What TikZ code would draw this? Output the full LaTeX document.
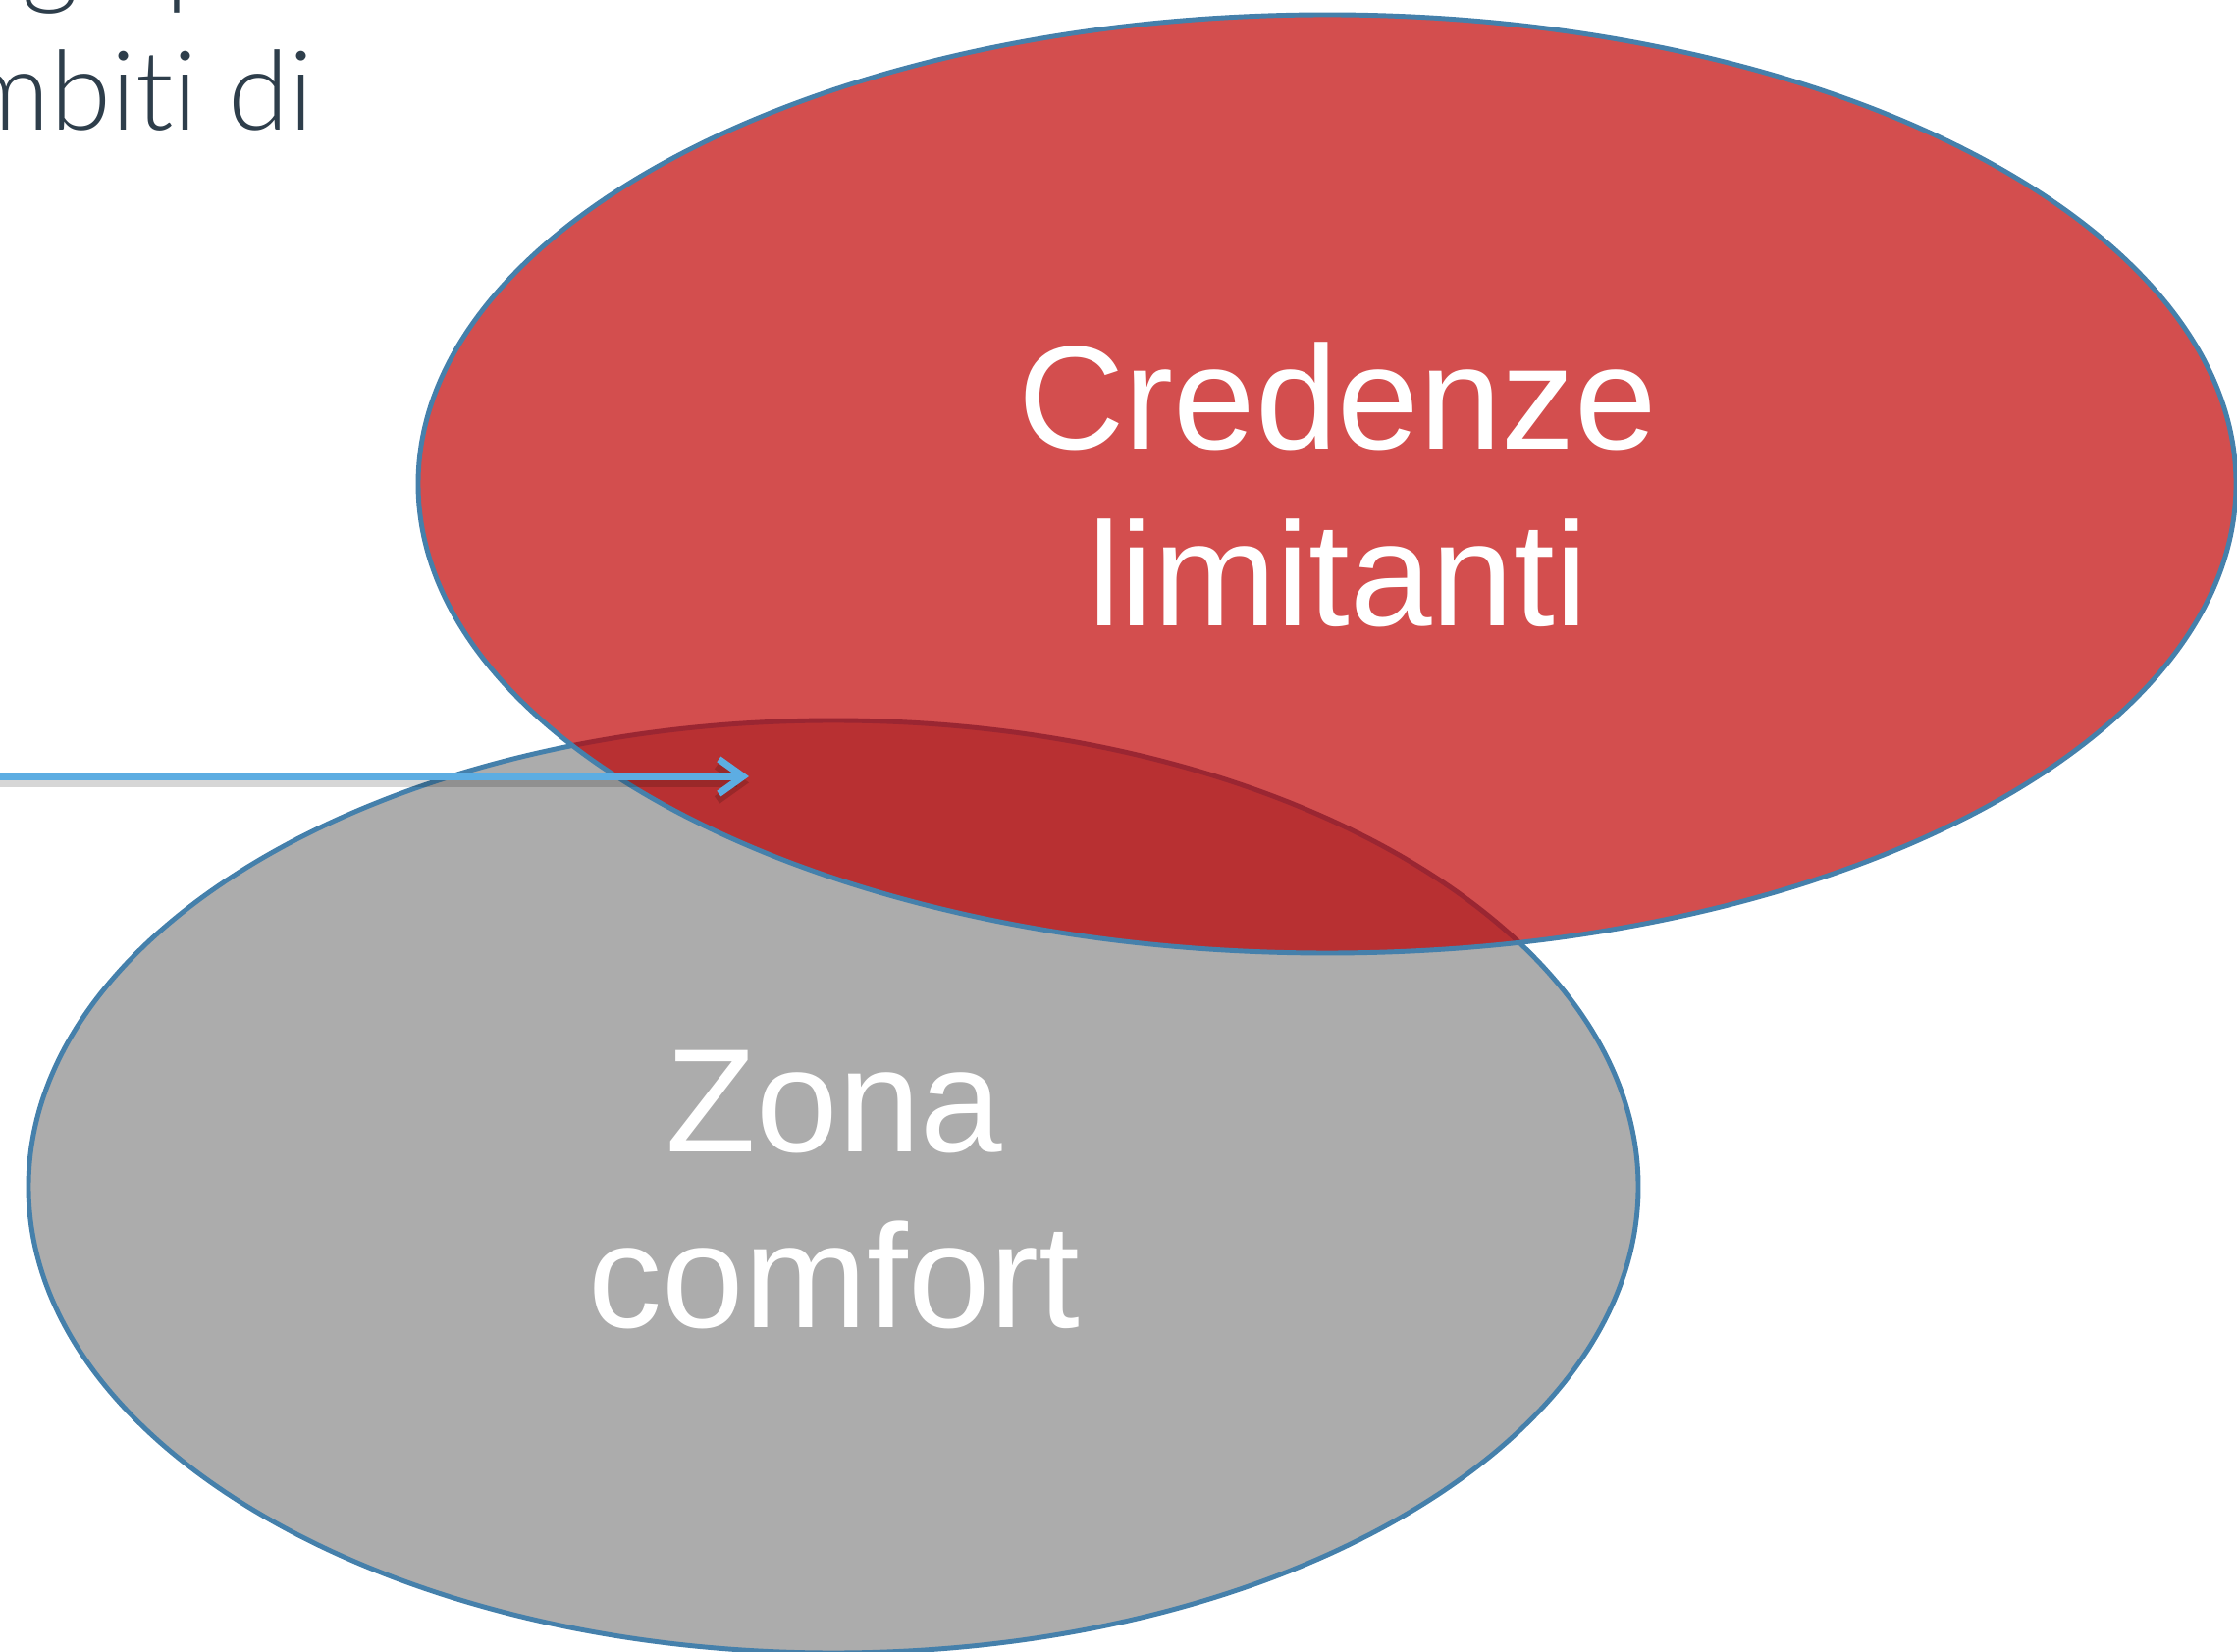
\documentclass[tikz,border=0pt]{standalone}
\usepackage{fontspec}
\setmainfont{Liberation Sans}
\newfontfamily\thinfont{Lato Light}[Ligatures={NoCommon,NoRare}]
\usetikzlibrary{arrows.meta,positioning,calc}

\definecolor{redfill}{HTML}{D34E4E}
\definecolor{overlapfill}{HTML}{B83032}
\definecolor{greyfill}{HTML}{ACACAC}
\definecolor{rimblue}{HTML}{4580AB}
\definecolor{rimred}{HTML}{9A2632}
\definecolor{arrowblue}{HTML}{5DADE2}
\definecolor{slatetext}{HTML}{2E3E4B}

\begin{document}
\begin{tikzpicture}[x=0.01cm,y=-0.01cm,
    rim/.style={draw=rimblue, line width=1.4pt},
    zonelabel/.style={text=white, font=\fontsize{42.7}{51}\selectfont, align=center, inner sep=0pt},
    toptext/.style={text=slatetext, font=\thinfont\fontsize{32}{38}\selectfont, inner sep=0pt},
    arrowline/.style={arrowblue, line width=2pt, -{Straight Barb[length=7pt,width=10pt]}},
    arrowshadow/.style={black, opacity=0.16, line width=2.6pt, -{Straight Barb[length=7pt,width=10pt]}}]
    \useasboundingbox (0,0) rectangle (2279,1683);

    \coordinate (redc) at (1352,493);
    \coordinate (greyc) at (849,1209);

    % the two sets
    \fill[greyfill] (greyc) ellipse [x radius=820, y radius=475];
    \draw[rim] (greyc) ellipse [x radius=820, y radius=475];
    \fill[redfill] (redc) ellipse [x radius=926, y radius=478];
    \begin{scope}
        \clip (redc) ellipse [x radius=926, y radius=478];
        \fill[overlapfill] (greyc) ellipse [x radius=820, y radius=475];
        \draw[rimred, line width=1.4pt] (greyc) ellipse [x radius=820, y radius=475];
    \end{scope}
    \draw[rim] (redc) ellipse [x radius=926, y radius=478];

    \node[zonelabel] (credenze) at (1363,494) {Credenze\\limitanti};
    \node[zonelabel] (comfort) at (850,1212) {Zona\\comfort};

    % cut-off text top left
    \node[toptext, anchor=base west] (line1) at (22,-6) {ge p};
    \node[toptext, anchor=base east] (line2) at (320,133) {ambiti di};

    % arrow into the overlap
    \coordinate (arrowstart) at (0,791);
    \coordinate (arrowtip) at (763,791);
    \draw[arrowshadow] ([yshift=-1.8pt]arrowstart) -- ([yshift=-1.8pt]arrowtip);
    \draw[arrowline] (arrowstart) -- (arrowtip);
\end{tikzpicture}
\end{document}
